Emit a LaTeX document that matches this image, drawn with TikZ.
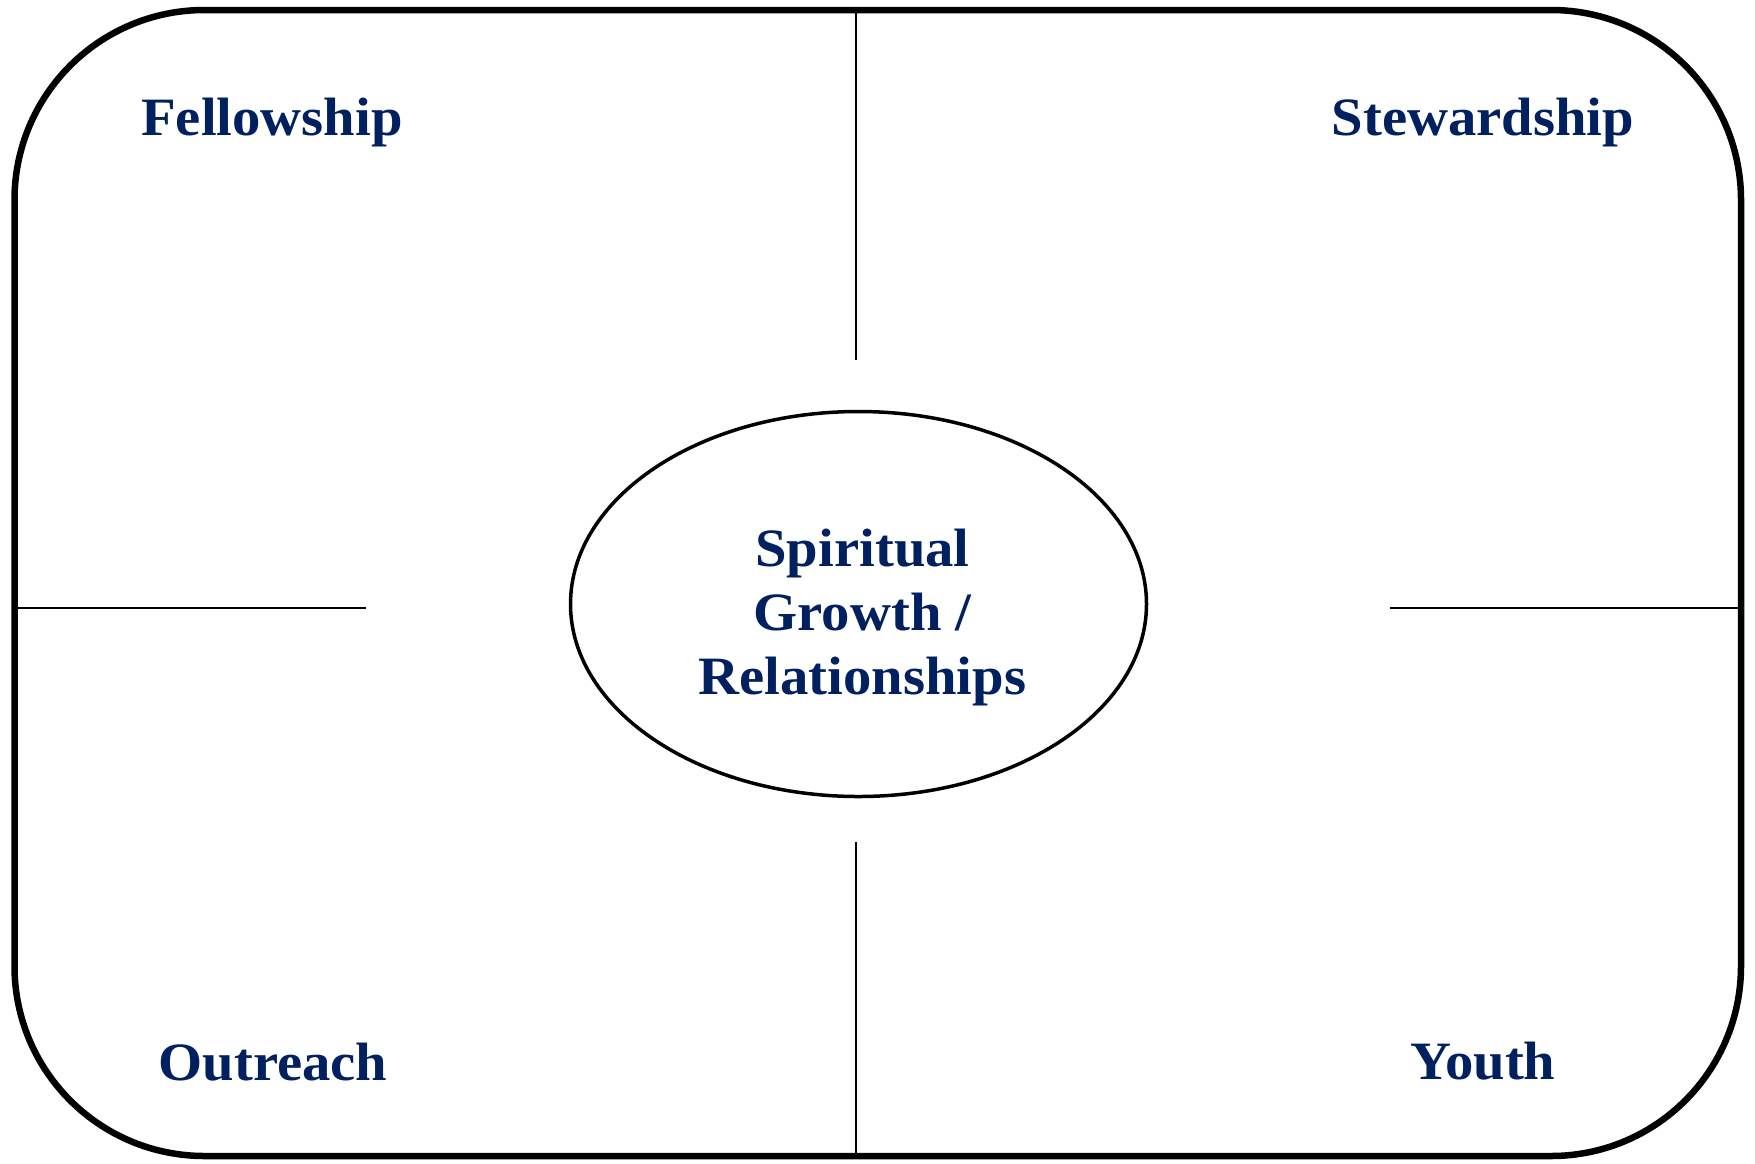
\documentclass[tikz,border=0pt]{standalone}
\usepackage{fontspec}
\setmainfont[FakeStretch=1.05]{Liberation Serif}
\usetikzlibrary{shapes.geometric}
\definecolor{navy}{HTML}{002060}
\tikzset {
    areatext/.style={font=\bfseries\fontsize{54}{64}\selectfont, text=navy, inner sep=0pt},
    divider/.style={line width=2.2pt},
    hub/.style={ellipse, draw, line width=3.5pt, minimum width=576pt, minimum height=385pt, inner sep=0pt}
}
\begin{document}
\begin{tikzpicture}[x=1pt, y=-1pt]
                        \useasboundingbox (0,0) rectangle (1755,1163);
                        \draw[line width=6.5pt, rounded corners=190pt] (14.5,10) rectangle (1741,1156);

                        \node[hub] (growth) at (858.5,604) {};
                        \node[areatext, align=center, xshift=4pt, yshift=-13pt] (growthtext) at (growth) {Spiritual\\Growth /\\Relationships};

                        \node[areatext] (fellow) at (272,123) {Fellowship};
                        \node[areatext] (steward) at (1483,123) {Stewardship};
                        \node[areatext] (outreach) at (273,1062) {Outreach};
                        \node[areatext] (youth) at (1483,1061) {Youth};

                        \coordinate (topA) at (856,10);
                        \coordinate (topB) at (856,360);
                        \coordinate (botA) at (856,842);
                        \coordinate (botB) at (856,1156);
                        \coordinate (leftA) at (14.5,608);
                        \coordinate (leftB) at (366,608);
                        \coordinate (rightA) at (1390,608);
                        \coordinate (rightB) at (1741,608);

                        \draw[divider]
                        (topA) -- (topB)
                        (botA) -- (botB)
                        (leftA) -- (leftB)
                        (rightA) -- (rightB);

                    \end{tikzpicture}
\end{document}
